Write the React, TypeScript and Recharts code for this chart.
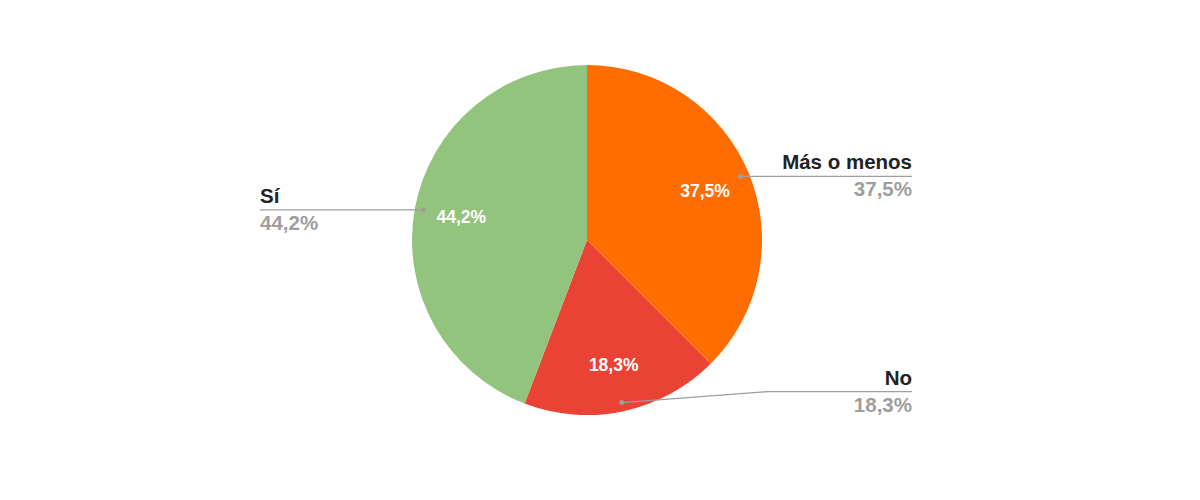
import React from 'react';
import { PieChart, Pie, Cell } from 'recharts';

const categories = ['Más o menos', 'No', 'Sí'];
const shares = [37.5, 18.3, 44.2];
const colors = ['#FF6D01', '#EA4335', '#93C47D'];

const data = categories.map((name, i) => ({ name, value: shares[i] }));

const RAD = Math.PI / 180;
const fmt = (v: number) => `${v.toFixed(1).replace('.', ',')}%`;

function renderLabel(props: any) {
  const { cx, cy, midAngle, outerRadius, name, value } = props;
  const cos = Math.cos(-midAngle * RAD);
  const sin = Math.sin(-midAngle * RAD);

  // value inside the slice
  const ix = cx + outerRadius * 0.73 * cos;
  const iy = cy + outerRadius * 0.73 * sin;

  // leader line start
  const dx = cx + outerRadius * 0.95 * cos;
  const dy = cy + outerRadius * 0.95 * sin;
  const right = cos >= 0;
  const lineY = Math.min(dy, cy + outerRadius * 0.866);
  const elbowX = right ? cx + outerRadius + 6 : cx - outerRadius - 6;
  const endX = right ? 912 : 260;
  const anchor = right ? 'end' : 'start';

  return (
    <g>
      <text x={ix} y={iy} fill="#fff" fontSize={17.5} fontWeight="bold" textAnchor="middle" dominantBaseline="central">
        {fmt(value)}
      </text>
      <polyline points={`${dx},${dy} ${elbowX},${lineY} ${endX},${lineY}`} fill="none" stroke="#9e9e9e" strokeWidth={1.3} />
      <circle cx={dx} cy={dy} r={2.5} fill="#9e9e9e" />
      <text x={endX} y={lineY - 7} fill="#222" fontSize={20.5} fontWeight="bold" textAnchor={anchor}>
        {name}
      </text>
      <text x={endX} y={lineY + 20} fill="#9e9e9e" fontSize={20.5} fontWeight="bold" textAnchor={anchor}>
        {fmt(value)}
      </text>
    </g>
  );
}

export default function App() {
  return (
    <div style={{ position: 'absolute', left: 0, top: 0, width: 1200, height: 500, background: '#fff', fontFamily: '"Liberation Sans", Arial, sans-serif' }}>
      <PieChart width={1200} height={500}>
        <Pie
          data={data}
          dataKey="value"
          nameKey="name"
          cx={582}
          cy={235}
          outerRadius={175}
          startAngle={90}
          endAngle={-270}
          stroke="none"
          label={renderLabel}
          labelLine={false}
          isAnimationActive={false}
        >
          {data.map((d, i) => (
            <Cell key={d.name} fill={colors[i]} />
          ))}
        </Pie>
      </PieChart>
    </div>
  );
}
